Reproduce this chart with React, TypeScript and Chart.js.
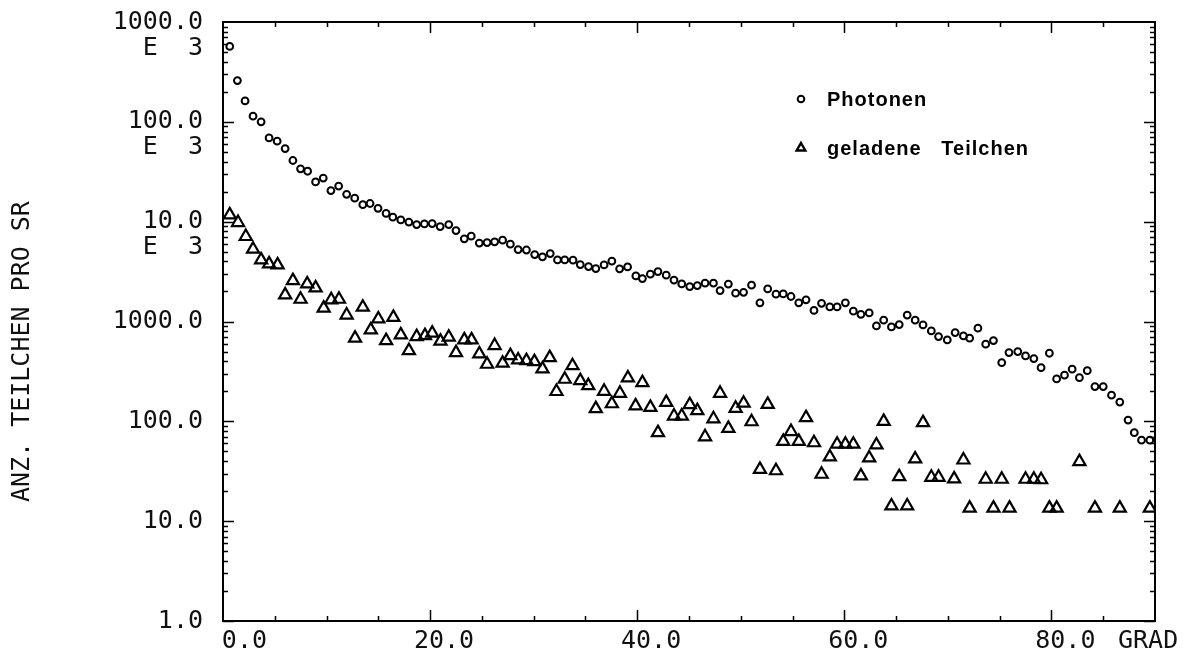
import React, { useEffect, useRef } from 'react';
import { Chart, registerables } from 'chart.js';

Chart.register(...registerables);

// ---- data ----
const photonAngles = [
  0.65, 1.39, 2.13, 2.9, 3.68, 4.45, 5.23, 6.0, 6.75, 7.49, 8.17, 8.94, 9.68, 10.42, 11.17, 11.94, 12.72, 13.5, 14.2, 14.97,
  15.75, 16.4, 17.17, 17.95, 18.7, 19.45, 20.2, 20.97, 21.8, 22.5,
  23.3, 23.97, 24.75, 25.5, 26.23, 27.0, 27.75, 28.5, 29.3, 30.1, 30.85, 31.6, 32.3, 33.0, 33.8, 34.5, 35.3, 36.0, 36.8, 37.55,
  38.3, 39.07, 39.87, 40.5, 41.27, 42.0, 42.8, 43.55, 44.3, 45.07, 45.8,
  46.55, 47.36, 48.0, 48.8, 49.5, 50.27, 51.04, 51.85, 52.6, 53.4, 54.1, 54.85, 55.6, 56.3, 57.07, 57.8, 58.6, 59.3, 60.1, 60.87,
  61.6, 62.4, 63.1, 63.8, 64.55, 65.3, 66.07, 66.84, 67.6, 68.4, 69.1,
  69.94, 70.7, 71.5, 72.1, 72.9, 73.65, 74.4, 75.2, 75.9, 76.75, 77.5, 78.3, 79.0, 79.8, 80.5, 81.26, 82.0, 82.7, 83.46, 84.2,
  85.0, 85.8, 86.6, 87.4, 88.0, 88.7, 89.5,
];
const photonCounts = [
  569000, 259000, 162000, 114000, 100000, 69000, 64000, 54000, 41000, 33800, 32000, 25000, 27300, 20500, 22700, 18800, 17200, 14800, 15200, 13600,
  12100, 11100, 10400, 9900, 9350, 9500, 9570, 8930, 9350, 8150,
  6730, 7160, 6100, 6170, 6280, 6530, 5950, 5250, 5200, 4680, 4440, 4790, 4140, 4140, 4110, 3720, 3550, 3390, 3690, 4020,
  3370, 3520, 2860, 2690, 2980, 3160, 2910, 2600, 2380, 2240, 2290,
  2420, 2420, 2040, 2370, 1920, 1960, 2310, 1540, 2120, 1880, 1890, 1780, 1540, 1650, 1290, 1520, 1400, 1400, 1540, 1270,
  1180, 1220, 904, 1030, 883, 931, 1160, 1030, 925, 805, 706,
  654, 774, 717, 681, 857, 593, 644, 387, 488, 500, 452, 425, 345, 481, 266, 290, 333, 274, 322, 223,
  223, 183, 156, 103, 77, 64.7, 64.7,
];

const chargedAngles = [
  0.65, 1.45, 2.2, 2.9, 3.68, 4.45, 5.27, 6.0, 6.75, 7.49, 8.13, 8.94, 9.72, 10.45, 11.2, 11.94, 12.75, 13.5, 14.27, 15.0,
  15.75, 16.45, 17.17, 17.95, 18.7, 19.5, 20.2, 21.0, 21.8, 22.5,
  23.3, 24.0, 24.75, 25.5, 26.23, 27.0, 27.75, 28.5, 29.3, 30.07, 30.85, 31.55, 32.2, 33.0, 33.75, 34.5, 35.27, 36.0, 36.8, 37.55,
  38.33, 39.1, 39.84, 40.5, 41.27, 42.0, 42.8, 43.55, 44.3, 45.07, 45.8,
  46.55, 47.36, 48.0, 48.8, 49.5, 50.27, 51.04, 51.85, 52.6, 53.4, 54.1, 54.85, 55.6, 56.3, 57.07, 57.8, 58.6, 59.3, 60.1, 60.87,
  61.6, 62.4, 63.1, 63.8, 64.55, 65.3, 66.07, 66.84, 67.6, 68.4, 69.1,
  70.6, 71.5, 72.1, 73.65, 74.4, 75.2, 75.95, 77.5, 78.3, 79.0, 79.8, 80.5, 82.7, 84.2, 86.6, 89.5,
];
const chargedCounts = [
  11700, 9800, 7100, 5300, 4140, 3780, 3690, 1850, 2570, 1670, 2380, 2170, 1360, 1650, 1670, 1160, 681, 1390, 824, 1060,
  644, 1100, 734, 511, 706, 722, 764, 635, 696, 488,
  654, 654, 474, 373, 574, 382, 455, 412, 406, 396, 335, 435, 199, 264, 361, 256, 228, 134, 200, 150,
  191, 272, 143, 244, 138, 77, 155, 113, 113, 147, 128,
  70, 106, 191, 85, 135, 152, 99, 33, 148, 32, 63, 79, 63, 109, 61, 29.5, 44, 59, 59, 59,
  28.4, 43, 58, 100, 14.2, 27.9, 14.2, 42, 97, 27.5, 27.5,
  26.5, 41, 13.5, 26.3, 13.5, 26.3, 13.5, 26.3, 26.3, 26, 13.5, 13.5, 39.5, 13.5, 13.5, 13.5,
];

const seriesLabels = ['Photonen', 'geladene   Teilchen'];
const xTickValues = [0, 20, 40, 60, 80];
const xTickLabels = ['0.0', '20.0', '40.0', '60.0', '80.0'];
const yTickValues = [1, 10, 100, 1000, 10000, 100000, 1000000];
const yTickLabels = [
  ['1.0', ''],
  ['10.0', ''],
  ['100.0', ''],
  ['1000.0', ''],
  ['10.0', 'E  3'],
  ['100.0', 'E  3'],
  ['1000.0', 'E  3'],
];
const xUnit = 'GRAD';
const yTitle = 'ANZ. TEILCHEN PRO SR';

const MONO = '"DejaVu Sans Mono", "Liberation Mono", monospace';
const INK = '#111';

const framePlugin = {
  id: 'plotterFrame',
  afterDatasetsDraw(chart: any) {
    const { ctx, chartArea: a, scales } = chart;
    const xs = scales.x;
    const ys = scales.y;
    ctx.save();
    ctx.strokeStyle = '#000';
    ctx.lineWidth = 2;
    ctx.strokeRect(a.left, a.top, a.right - a.left, a.bottom - a.top);
    ctx.lineWidth = 1.5;
    ctx.beginPath();
    for (let e = 0; e < 6; e++) {
      for (let m = 1; m <= 9; m++) {
        const v = m * Math.pow(10, e);
        const py = Math.round(ys.getPixelForValue(v)) + 0.5;
        const len = m === 1 ? 11 : 5;
        ctx.moveTo(a.left, py);
        ctx.lineTo(a.left + len, py);
        ctx.moveTo(a.right, py);
        ctx.lineTo(a.right - len, py);
      }
    }
    for (let d = 5; d < xs.max; d += 5) {
      const px = Math.round(xs.getPixelForValue(d)) + 0.5;
      const len = d % 20 === 0 ? 11 : 5;
      ctx.moveTo(px, a.bottom);
      ctx.lineTo(px, a.bottom - len);
      ctx.moveTo(px, a.top);
      ctx.lineTo(px, a.top + len);
    }
    ctx.stroke();
    ctx.restore();
  },
  afterDraw(chart: any) {
    const { ctx, chartArea: a } = chart;
    ctx.save();
    // unit at the end of the x axis
    ctx.fillStyle = INK;
    ctx.font = `25px ${MONO}`;
    ctx.textAlign = 'left';
    ctx.textBaseline = 'middle';
    ctx.fillText(xUnit, a.right - 37, a.bottom + 20);

    // legend inside the plot
    const ds = chart.data.datasets;
    const mx = a.left + 578;
    const tx = a.left + 604;
    const rows = [a.top + 77, a.top + 126];
    ctx.strokeStyle = '#000';
    ctx.fillStyle = '#000';
    ctx.lineWidth = 2;
    ctx.beginPath();
    ctx.arc(mx, rows[0], 3.3, 0, Math.PI * 2);
    ctx.stroke();
    ctx.lineWidth = 2.4;
    const r = 5;
    ctx.beginPath();
    ctx.moveTo(mx, rows[1] - r);
    ctx.lineTo(mx + r * 0.866, rows[1] + r / 2);
    ctx.lineTo(mx - r * 0.866, rows[1] + r / 2);
    ctx.closePath();
    ctx.stroke();

    ctx.font = 'bold 20px "Liberation Sans", Arial, sans-serif';
    try { (ctx as any).letterSpacing = '1px'; } catch (e) {}
    ctx.textBaseline = 'middle';
    ctx.fillText(ds[0].label, tx, rows[0] + 1);
    ctx.fillText(ds[1].label, tx, rows[1] + 1);
    ctx.restore();
  },
};

export default function App() {
  const ref = useRef<HTMLCanvasElement | null>(null);

  useEffect(() => {
    if (!ref.current) return;
    const photons = photonAngles.map((x, i) => ({ x, y: photonCounts[i] }));
    const charged = chargedAngles.map((x, i) => ({ x, y: chargedCounts[i] }));
    const chart = new Chart(ref.current, {
      type: 'scatter',
      data: {
        datasets: [
          {
            label: seriesLabels[0],
            data: photons,
            pointStyle: 'circle',
            pointRadius: 3.4,
            pointBorderWidth: 2,
            pointBorderColor: '#000',
            pointBackgroundColor: 'rgba(255,255,255,0)',
            showLine: false,
          },
          {
            label: seriesLabels[1],
            data: charged,
            pointStyle: 'triangle',
            pointRadius: 7,
            pointBorderWidth: 2.2,
            pointBorderColor: '#000',
            pointBackgroundColor: 'rgba(255,255,255,0)',
            showLine: false,
          },
        ],
      },
      options: {
        animation: false,
        responsive: false,
        devicePixelRatio: 1,
        layout: { padding: { left: 0, top: 22, right: 36, bottom: 0 } },
        plugins: {
          legend: { display: false },
          tooltip: { enabled: false },
        },
        scales: {
          x: {
            type: 'linear',
            position: 'bottom',
            min: 0,
            max: 90,
            grid: { display: false, drawTicks: false },
            border: { display: false },
            afterBuildTicks: (scale: any) => {
              scale.ticks = xTickValues.map((v) => ({ value: v }));
            },
            afterFit: (scale: any) => {
              scale.height = 38;
              scale.paddingLeft = 0;
              scale.paddingRight = 0;
            },
            ticks: {
              autoSkip: false,
              maxRotation: 0,
              minRotation: 0,
              align: 'end',
              labelOffset: 44,
              padding: 5,
              color: INK,
              font: { family: MONO, size: 25, lineHeight: 1.2 },
              callback: (v: any) => {
                const i = xTickValues.indexOf(Number(v));
                return i >= 0 ? xTickLabels[i] : '';
              },
            },
          },
          y: {
            type: 'logarithmic',
            position: 'left',
            min: 1,
            max: 1000000,
            grid: { display: false, drawTicks: false },
            border: { display: false },
            afterBuildTicks: (scale: any) => {
              scale.ticks = yTickValues.map((v) => ({ value: v, major: true }));
            },
            afterFit: (scale: any) => {
              scale.width = 223;
              scale.paddingTop = 0;
              scale.paddingBottom = 0;
            },
            title: {
              display: true,
              text: yTitle + '    ',
              color: INK,
              font: { family: MONO, size: 25, lineHeight: 1.2 },
              padding: { top: 7, bottom: 0 },
            },
            ticks: {
              autoSkip: false,
              padding: 20,
              labelOffset: 13,
              color: INK,
              font: { family: MONO, size: 25, lineHeight: 1.04 },
              callback: (v: any) => {
                const i = yTickValues.indexOf(Number(v));
                return i >= 0 ? yTickLabels[i] : '';
              },
            },
          },
        },
      },
      plugins: [framePlugin],
    } as any);
    return () => chart.destroy();
  }, []);

  return (
    <div style={{ position: 'absolute', left: 0, top: 0, width: 1191, height: 659, background: '#fff' }}>
      <canvas ref={ref} width={1191} height={659} style={{ display: 'block' }} />
    </div>
  );
}
